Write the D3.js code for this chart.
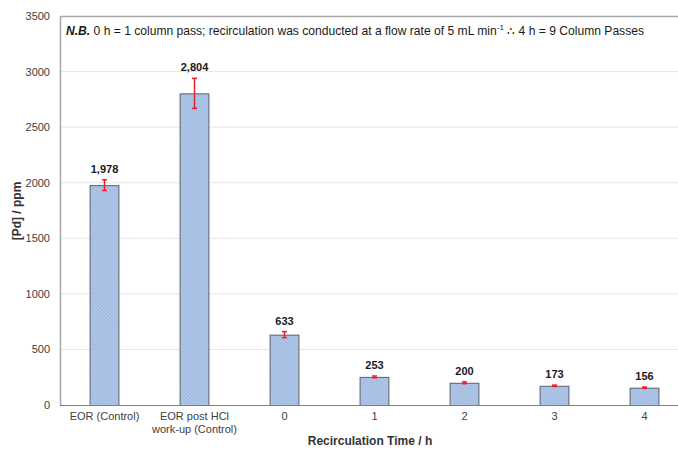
<!DOCTYPE html>
<html><head><meta charset="utf-8">
<script src="https://cdn.jsdelivr.net/npm/d3@7"></script>
<style>body{margin:0;background:#fff;} svg{display:block;font-family:"Liberation Sans",Arial,sans-serif;}</style>
</head><body>
<svg id="c" width="678" height="450"></svg>
<script>
const categories = ["EOR (Control)", "EOR post HCl\nwork-up (Control)", "0", "1", "2", "3", "4"];
const values = [1978, 2804, 633, 253, 200, 173, 156];
const errors = [48, 135, 27, 8, 8, 6, 6];
const valueLabels = ["1,978", "2,804", "633", "253", "200", "173", "156"];
const yTicks = [0, 500, 1000, 1500, 2000, 2500, 3000, 3500];

const svg = d3.select("#c");
const L = 60, T = 16, B = 405, R = 689;
const x = d3.scaleBand().domain(categories).range([59, R]).paddingInner(0.68).paddingOuter(0.34);
const y = d3.scaleLinear().domain([0, 3500]).range([B, T]);

const defs = svg.append("defs");
const pat = defs.append("pattern").attr("id","hatch").attr("patternUnits","userSpaceOnUse")
  .attr("width",2.5).attr("height",2.5).attr("patternTransform","rotate(-45)");
pat.append("rect").attr("width",2.5).attr("height",2.5).attr("fill","#b2c9e9");
pat.append("rect").attr("width",1).attr("height",2.5).attr("fill","#9bb6de");

// gridlines
svg.append("g").selectAll("line").data(yTicks.filter(d=>d>0 && d<3500)).join("line")
  .attr("x1", L).attr("x2", 678).attr("y1", d=>y(d)).attr("y2", d=>y(d))
  .attr("stroke","#e6e6e6").attr("stroke-width",1);

// frame
svg.append("line").attr("x1",L).attr("x2",678).attr("y1",T+0.5).attr("y2",T+0.5).attr("stroke","#a6a6a6").attr("stroke-width",1.5);
svg.append("line").attr("x1",L+0.5).attr("x2",L+0.5).attr("y1",T).attr("y2",B).attr("stroke","#a6a6a6").attr("stroke-width",1.5);

// bars
svg.append("g").selectAll("rect").data(values).join("rect")
  .attr("x",(d,i)=>x(categories[i])+0.5).attr("width",x.bandwidth())
  .attr("y",d=>y(d)+0.5).attr("height",d=>B-y(d))
  .attr("fill","url(#hatch)").attr("stroke","#5a5f6a").attr("stroke-width",1);

// x axis line
svg.append("line").attr("x1",L).attr("x2",678).attr("y1",B+0.5).attr("y2",B+0.5).attr("stroke","#7f7f7f").attr("stroke-width",1.2);

// error bars
const eg = svg.append("g").attr("stroke","#e8202a").attr("stroke-width",1.5);
values.forEach((v,i)=>{
  const cx = x(categories[i]) + x.bandwidth()/2 + 0.5;
  eg.append("line").attr("x1",cx).attr("x2",cx).attr("y1",y(v+errors[i])).attr("y2",y(v-errors[i]));
  eg.append("line").attr("x1",cx-2.5).attr("x2",cx+2.5).attr("y1",y(v+errors[i])).attr("y2",y(v+errors[i]));
  eg.append("line").attr("x1",cx-2.5).attr("x2",cx+2.5).attr("y1",y(v-errors[i])).attr("y2",y(v-errors[i]));
});

// value labels
svg.append("g").selectAll("text").data(values).join("text")
  .attr("x",(d,i)=>x(categories[i])+x.bandwidth()/2+0.5)
  .attr("y",(d,i)=>y(d+errors[i])-7)
  .attr("text-anchor","middle").attr("font-size",11).attr("font-weight","bold").attr("fill","#1a1a1a")
  .text((d,i)=>valueLabels[i]);

// y tick labels
svg.append("g").selectAll("text").data(yTicks).join("text")
  .attr("x",50).attr("y",d=>y(d)+4).attr("text-anchor","end")
  .attr("font-size",11).attr("fill","#404040").text(d=>d);

// x tick labels
const xl = svg.append("g");
categories.forEach(c=>{
  const lines = c.split("\n");
  const t = xl.append("text").attr("x",x(c)+x.bandwidth()/2+0.5).attr("y",420)
    .attr("text-anchor","middle").attr("font-size",11).attr("fill","#404040");
  lines.forEach((ln,j)=>t.append("tspan").attr("x",x(c)+x.bandwidth()/2+0.5).attr("dy", j===0?0:13).text(ln));
});

// axis titles
svg.append("text").attr("x",370).attr("y",445).attr("text-anchor","middle")
  .attr("font-size",12).attr("font-weight","bold").attr("fill","#333").text("Recirculation Time / h");
svg.append("text").attr("transform","translate(21,211) rotate(-90)").attr("text-anchor","middle")
  .attr("font-size",12).attr("font-weight","bold").attr("fill","#333").text("[Pd] / ppm");

// annotation
const ann = svg.append("text").attr("x",66).attr("y",35).attr("font-size",12.1).attr("fill","#1a1a1a");
ann.append("tspan").attr("font-weight","bold").attr("font-style","italic").text("N.B.");
ann.append("tspan").text(" 0 h = 1 column pass; recirculation was conducted at a flow rate of 5 mL min");
ann.append("tspan").attr("font-size",8).attr("dy",-5).text("-1");
ann.append("tspan").attr("dy",5).text(" \u2234 4 h = 9 Column Passes");
</script>
</body></html>
